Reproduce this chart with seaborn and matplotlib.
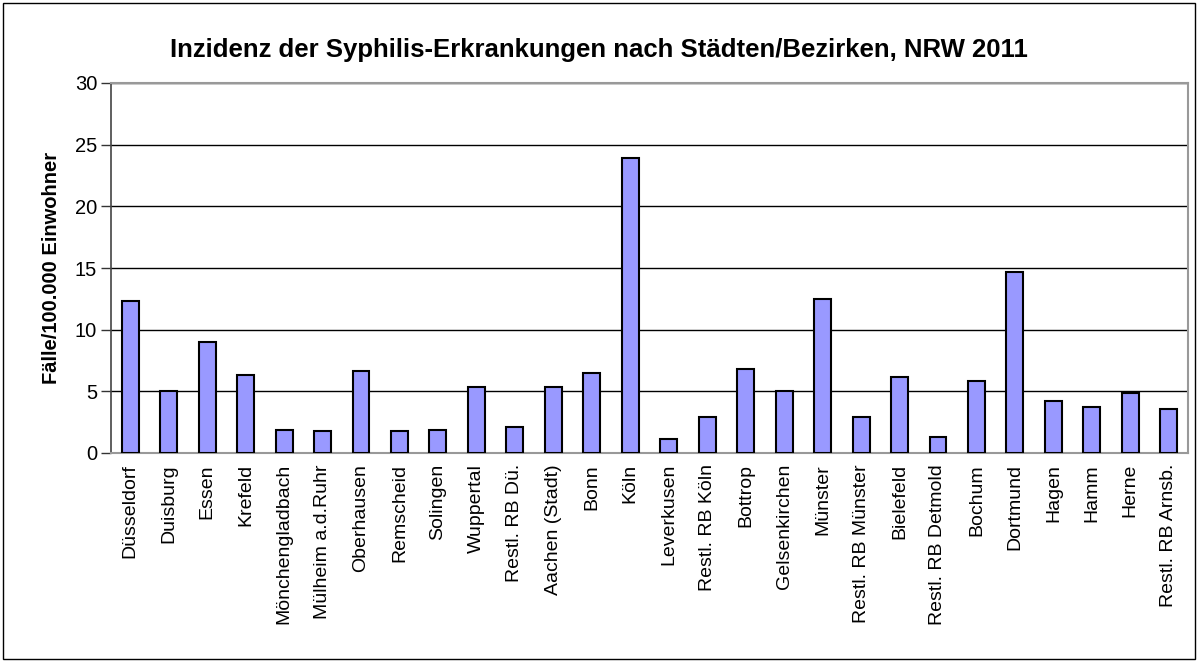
import numpy as np
import pandas as pd
import matplotlib
matplotlib.use("Agg")
import matplotlib.pyplot as plt
import seaborn as sns
from matplotlib.patches import Rectangle

# Daten: Inzidenz je 100.000 Einwohner, NRW 2011
orte = ["Düsseldorf", "Duisburg", "Essen", "Krefeld", "Mönchengladbach",
        "Mülheim a.d.Ruhr", "Oberhausen", "Remscheid", "Solingen", "Wuppertal",
        "Restl. RB Dü.", "Aachen (Stadt)", "Bonn", "Köln", "Leverkusen",
        "Restl. RB Köln", "Bottrop", "Gelsenkirchen", "Münster",
        "Restl. RB Münster", "Bielefeld", "Restl. RB Detmold", "Bochum",
        "Dortmund", "Hagen", "Hamm", "Herne", "Restl. RB Arnsb."]
inzidenz = [12.3, 5.0, 9.0, 6.3, 1.9, 1.8, 6.65, 1.8, 1.9, 5.35,
            2.1, 5.35, 6.5, 23.9, 1.15, 2.95, 6.85, 5.0, 12.5,
            2.95, 6.2, 1.3, 5.85, 14.65, 4.25, 3.75, 4.9, 3.6]

df = pd.DataFrame({"ort": orte, "inzidenz": inzidenz})

sns.set_style("white")
plt.rcParams["font.family"] = ["Liberation Sans", "DejaVu Sans"]
plt.rcParams.update({"text.color": "black", "axes.labelcolor": "black",
                     "xtick.color": "black", "ytick.color": "black"})

fig = plt.figure(figsize=(11.98, 6.62), dpi=100)
ax = fig.add_axes([111 / 1198, 1 - 453 / 662, (1188 - 111) / 1198, (453 - 83) / 662])

sns.barplot(data=df, x="ort", y="inzidenz", color="#9999FF", saturation=1,
            width=0.44, edgecolor="black", linewidth=1.5, ax=ax, zorder=3)

ax.set_ylim(0, 30)
ax.set_xlim(-0.5, len(orte) - 0.5)
ax.set_yticks(np.arange(0, 31, 5))
ax.yaxis.grid(True, color="black", linewidth=1)
ax.set_axisbelow(True)

# Teilstriche zwischen den Kategorien
ax.set_xticks(np.arange(-0.5, len(orte), 1), minor=True)
ax.tick_params(axis="x", which="major", length=0, pad=8, labelsize=14)
ax.tick_params(axis="x", which="minor", length=5, direction="out", color="#555555", width=1)
ax.tick_params(axis="y", which="major", length=7, direction="out", color="#333333",
               width=1, labelsize=14.5, left=True, pad=3)
plt.setp(ax.get_xticklabels(), rotation=90)

for side in ["top", "right", "bottom"]:
    ax.spines[side].set_color("#999999")
    ax.spines[side].set_linewidth(1.5)
ax.spines["left"].set_color("#444444")
ax.spines["left"].set_linewidth(1.2)

ax.set_xlabel("")
ax.set_ylabel("Fälle/100.000 Einwohner", fontsize=14.5, fontweight="bold", labelpad=10)

fig.text(0.5, 1 - 50 / 662, "Inzidenz der Syphilis-Erkrankungen nach Städten/Bezirken, NRW 2011",
         ha="center", va="center", fontsize=18.5, fontweight="bold")

fig.patches.append(Rectangle((3 / 1198, 3 / 662), 1192 / 1198, 656 / 662,
                             transform=fig.transFigure, fill=False,
                             edgecolor="black", linewidth=1))

fig.savefig("out.png", dpi=100)
